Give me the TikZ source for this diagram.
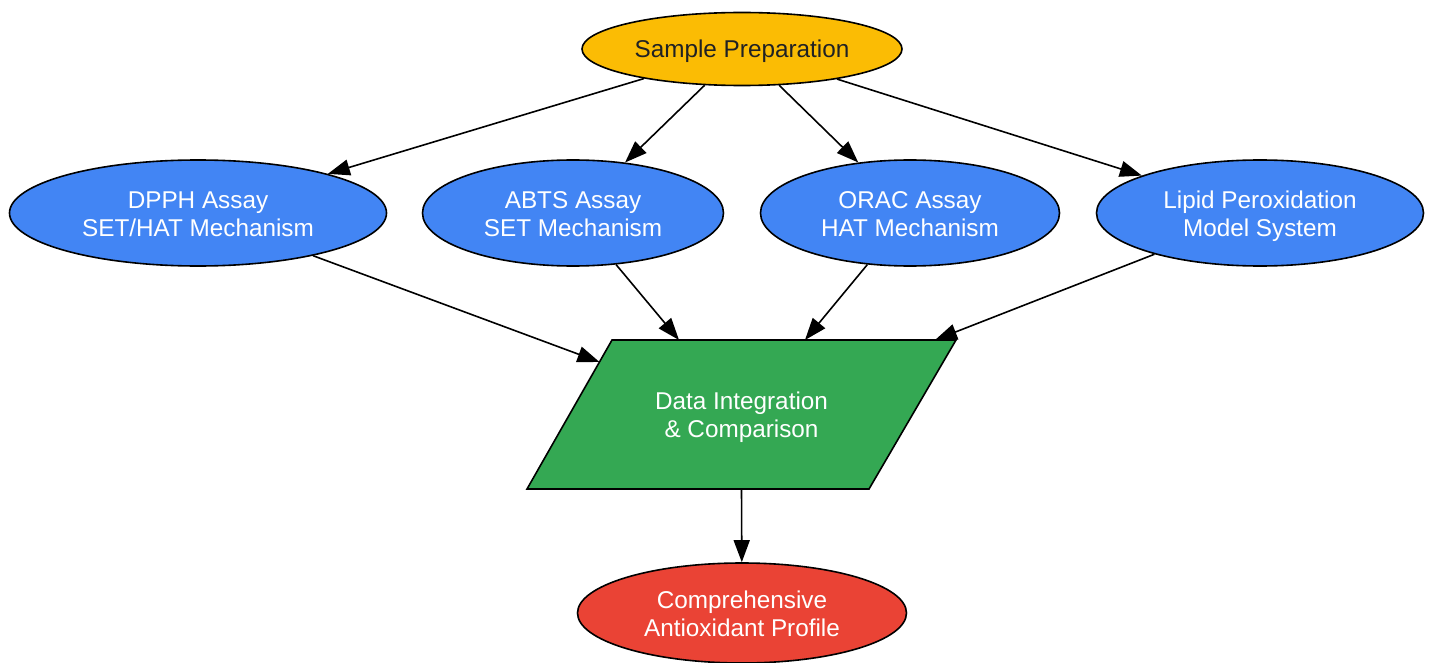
\documentclass[tikz,border=0pt]{standalone}
\usepackage{fontspec}
\setmainfont{Liberation Sans}
\usetikzlibrary{shapes.geometric,arrows.meta}
\definecolor{gyellow}{HTML}{FBBC04}
\definecolor{gblue}{HTML}{4285F4}
\definecolor{ggreen}{HTML}{34A853}
\definecolor{gred}{HTML}{EA4335}
\definecolor{gtext}{HTML}{202124}
\tikzset{
  base/.style={draw=black, line width=1.6pt, inner sep=0pt},
  oval/.style={base, ellipse},
  txt/.style={inner sep=0pt, align=center, font=\fontsize{24.3}{28}\selectfont},
  conn/.style={line width=1.6pt, -{Triangle[length=22pt,width=16pt]}},
}
\begin{document}
\begin{tikzpicture}[x=1pt,y=-1pt]
\useasboundingbox (0,0) rectangle (1431,663);
% shapes
\node[oval, fill=gyellow, minimum width=320pt, minimum height=73pt] (s) at (742,49) {};
\node[oval, fill=gblue, minimum width=377pt, minimum height=106pt] (d) at (198,213) {};
\node[oval, fill=gblue, minimum width=301pt, minimum height=106pt] (a) at (573,213) {};
\node[oval, fill=gblue, minimum width=299pt, minimum height=106pt] (o) at (910,213) {};
\node[oval, fill=gblue, minimum width=327pt, minimum height=106pt] (l) at (1260,213) {};
\node[oval, fill=gred, minimum width=329pt, minimum height=100pt] (c) at (742,613) {};
% parallelogram
\coordinate (p1) at (612,340);
\coordinate (p2) at (956,340);
\coordinate (p3) at (869,489);
\coordinate (p4) at (527,489);
\draw[line width=1.6pt, fill=ggreen, line join=miter] (p1) -- (p2) -- (p3) -- (p4) -- cycle;
\node[inner sep=0pt] (p) at (741.5,414.5) {};
% labels
\node[txt, text=gtext] (ts) at ([yshift=-3pt]s.center) {\strut Sample Preparation};
\node[txt, text=white] (td) at ([yshift=-3.7pt]d.center) {\strut DPPH Assay\\\strut SET/HAT Mechanism};
\node[txt, text=white] (ta) at ([yshift=-3.7pt]a.center) {\strut ABTS Assay\\\strut SET Mechanism};
\node[txt, text=white] (to) at ([yshift=-3.7pt]o.center) {\strut ORAC Assay\\\strut HAT Mechanism};
\node[txt, text=white] (tl) at ([yshift=-3.7pt]l.center) {\strut Lipid Peroxidation\\\strut Model System};
\node[txt, text=white] (tp) at ([yshift=-3.7pt]p.center) {\strut Data Integration\\\strut\& Comparison};
\node[txt, text=white] (tc) at ([yshift=-3.7pt]c.center) {\strut Comprehensive\\\strut Antioxidant Profile};
% connector ends on the parallelogram
\coordinate (ed) at (599.5,362);
\coordinate (ea) at (679,340);
\coordinate (eo) at (805,340);
\coordinate (el) at (935,340);
\coordinate (eb) at (741.5,489);
\draw[conn] (s) -- (d);
\draw[conn] (s) -- (a);
\draw[conn] (s) -- (o);
\draw[conn] (s) -- (l);
\draw[conn] (d) -- (ed);
\draw[conn] (a) -- (ea);
\draw[conn] (o) -- (eo);
\draw[conn] (l) -- (el);
\draw[conn] (eb) -- (c);
\end{tikzpicture}
\end{document}
